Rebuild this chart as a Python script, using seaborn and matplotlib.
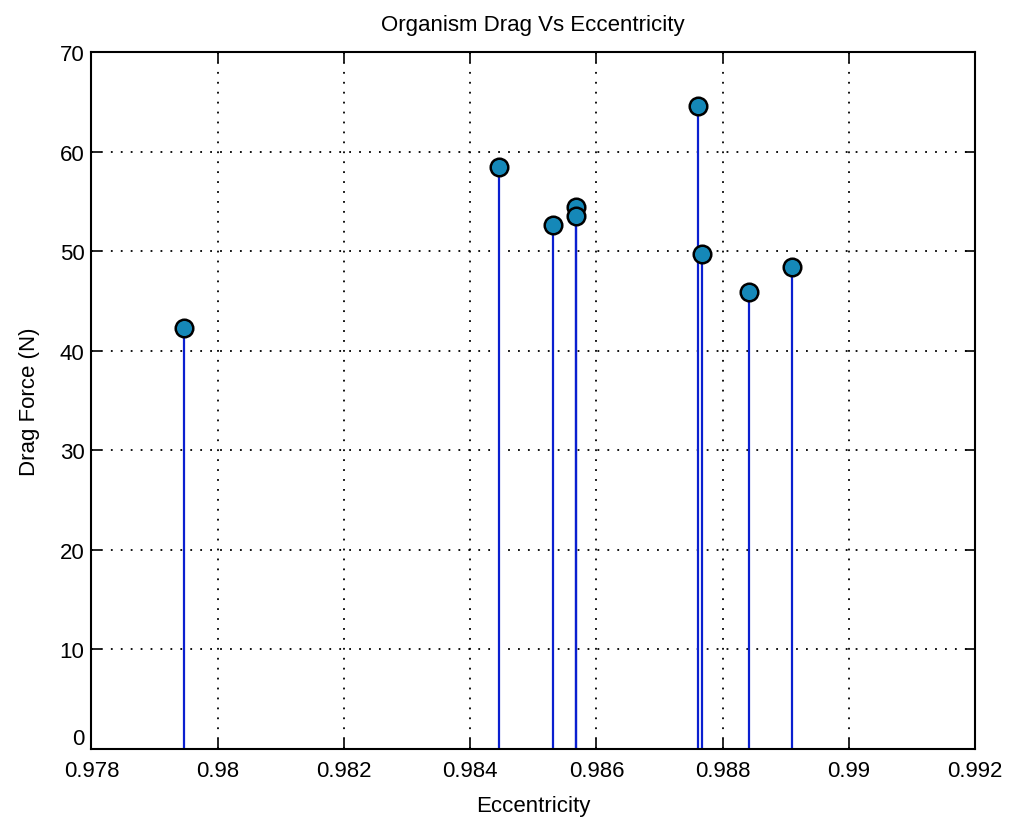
import matplotlib
matplotlib.use("Agg")
import matplotlib.pyplot as plt
import seaborn as sns
import pandas as pd

eccentricity = [0.97946, 0.98445, 0.98532, 0.98568, 0.98568, 0.98761, 0.98767, 0.98842, 0.98910]
drag_force = [42.3, 58.4, 52.6, 54.4, 53.5, 64.6, 49.7, 45.9, 48.4]
x_ticks = [0.978, 0.98, 0.982, 0.984, 0.986, 0.988, 0.99, 0.992]
x_tick_labels = ["0.978", "0.98", "0.982", "0.984", "0.986", "0.988", "0.99", "0.992"]
y_ticks = [0, 10, 20, 30, 40, 50, 60, 70]

sns.set_style("white")
plt.rcParams['font.family'] = ['Liberation Sans', 'DejaVu Sans']
plt.rcParams['text.color'] = 'black'
plt.rcParams['axes.labelcolor'] = 'black'

df = pd.DataFrame({"Eccentricity": eccentricity, "Drag": drag_force})

fig = plt.figure(figsize=(10.11, 8.20), dpi=100)
ax = fig.add_axes([0.0905, 0.0854, 0.874, 0.85])

ax.vlines(df["Eccentricity"], 0, df["Drag"], color="#0a1fd0", linewidth=1.6, zorder=2)
sns.scatterplot(data=df, x="Eccentricity", y="Drag", ax=ax, s=160, color="#1588b8",
                edgecolor="black", linewidth=1.8, zorder=3, legend=False)

ax.set_xlim(0.978, 0.992)
ax.set_ylim(0, 70)
ax.set_xticks(x_ticks)
ax.set_xticklabels(x_tick_labels)
ax.set_yticks(y_ticks)
ax.grid(True, color="black", linestyle=(0, (1, 4.5)), linewidth=1.3)
ax.tick_params(direction="in", length=7, width=1.2, labelsize=16, top=True, right=True,
               bottom=True, left=True, colors="black")
ax.tick_params(axis="x", pad=8)
ax.tick_params(axis="y", pad=5)
ax.get_yticklabels()[0].set_verticalalignment("bottom")
for sp in ax.spines.values():
    sp.set_color("black")
    sp.set_linewidth(1.5)

ax.set_title("Organism Drag Vs Eccentricity", fontsize=16, pad=16, color="black")
ax.set_xlabel("Eccentricity", fontsize=16, labelpad=10)
ax.set_ylabel("Drag Force (N)", fontsize=16, labelpad=14)

fig.savefig("out.png", dpi=100, facecolor="white")
